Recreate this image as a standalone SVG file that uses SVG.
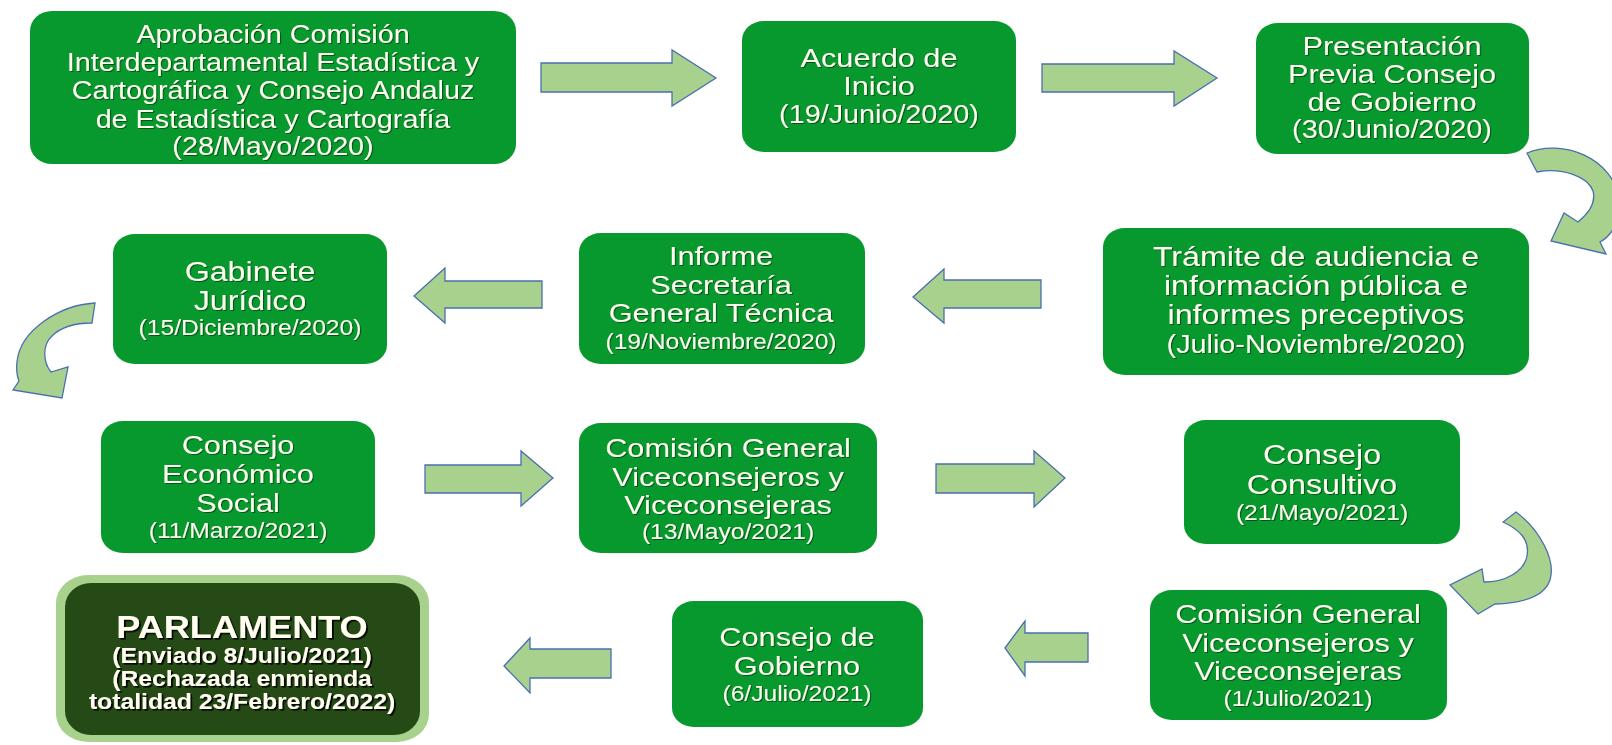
<svg xmlns="http://www.w3.org/2000/svg" width="1612" height="745" viewBox="0 0 1612 745">
<defs>
<filter id="sh" x="-10%" y="-30%" width="120%" height="160%">
<feDropShadow dx="1" dy="1" stdDeviation="0.6" flood-color="#000" flood-opacity="0.45"/>
</filter>
<filter id="sh2" x="-10%" y="-30%" width="120%" height="160%">
<feDropShadow dx="1.6" dy="1.6" stdDeviation="0.4" flood-color="#000" flood-opacity="0.9"/>
</filter>
</defs>
<style>
.box{fill:#08992e}
.arr{fill:#a9d18e;stroke:#4a6fb0;stroke-width:1.3;stroke-linejoin:miter}
text{font-family:"Liberation Sans",Arial,sans-serif;fill:#fffef0;text-anchor:middle}
.t1{font-size:25px}
.t2{font-size:26.7px}
.t3{font-size:28px}
.td{font-size:21.4px}
.pb{font-size:31.4px;font-weight:bold}
.ps{font-size:21.5px;font-weight:bold}
.txt{filter:url(#sh)}
</style>
<rect width="1612" height="745" fill="#ffffff"/>

<g id="connectors">
<polygon class="arr" points="541,63 672,63 672,50 716,78 672,106 672,92 541,92"/>
<polygon class="arr" points="1042,64 1174,64 1174,51 1217,78 1174,106 1174,92 1042,92"/>
<polygon class="arr" points="913,297 944,269 944,280 1041,280 1041,308 944,308 944,323"/>
<polygon class="arr" points="414,296 445,268 445,281 542,281 542,308 445,308 445,323"/>
<polygon class="arr" points="425,465 521,465 521,451 553,478 521,506 521,493 425,493"/>
<polygon class="arr" points="936,464 1034,464 1034,451 1065,478 1034,507 1034,493 936,493"/>
<polygon class="arr" points="1005,648 1025,621 1025,633 1088,633 1088,662 1025,662 1025,676"/>
<polygon class="arr" points="504,666 530,638 530,649 611,649 611,678 530,678 530,693"/>
<path class="arr" d="M1527 153 C1562 138 1614 158 1619 200 C1621 222 1611 236 1600 242 L1606 254 L1551 241 L1564 213 L1578 222 C1589 213 1596 202 1593 191 C1588 177 1563 167 1537 172 Z"/>
<path class="arr" d="M95 303 C60 305 20 330 17 362 C16 370 17 376 19 381 L13 390 L62 398 L68 367 L51 372 C43 362 42 345 52 336 C62 326 78 323 92 323 Z"/>
<path class="arr" d="M1516 512 C1540 530 1556 560 1550 580 C1545 595 1525 603 1495 604 L1478 614 L1450 585 L1482 569 L1484 582 C1505 582 1524 572 1527 556 C1530 540 1520 530 1503 522 Z"/>
</g>

<g id="n1">
<rect class="box" x="30" y="11" width="486" height="153" rx="22" ry="20"/>
<g class="txt" transform="translate(273 0) scale(1.15 1)">
<text class="t1" x="0" y="43">Aprobación Comisión</text>
<text class="t1" x="0" y="71">Interdepartamental Estadística y</text>
<text class="t1" x="0" y="99">Cartográfica y Consejo Andaluz</text>
<text class="t1" x="0" y="128">de Estadística y Cartografía</text>
<text class="t1" x="0" y="155">(28/Mayo/2020)</text>
</g>
</g>

<g id="n2">
<rect class="box" x="742" y="21" width="274" height="131" rx="22" ry="19"/>
<g class="txt" transform="translate(879 0) scale(1.15 1)">
<text class="t2" x="0" y="67">Acuerdo de</text>
<text class="t2" x="0" y="95">Inicio</text>
<text class="t1" x="0" y="123">(19/Junio/2020)</text>
</g>
</g>

<g id="n3">
<rect class="box" x="1256" y="23" width="273" height="131" rx="22" ry="19"/>
<g class="txt" transform="translate(1392 0) scale(1.15 1)">
<text class="t2" x="0" y="55">Presentación</text>
<text class="t2" x="0" y="83">Previa Consejo</text>
<text class="t2" x="0" y="111">de Gobierno</text>
<text class="t1" x="0" y="138">(30/Junio/2020)</text>
</g>
</g>

<g id="n4">
<rect class="box" x="1103" y="228" width="426" height="147" rx="22" ry="19"/>
<g class="txt" transform="translate(1316 0) scale(1.15 1)">
<text class="t3" x="0" y="266">Trámite de audiencia e</text>
<text class="t3" x="0" y="295">información pública e</text>
<text class="t3" x="0" y="324">informes preceptivos</text>
<text class="t1" x="0" y="353">(Julio-Noviembre/2020)</text>
</g>
</g>

<g id="n5">
<rect class="box" x="579" y="233" width="286" height="131" rx="22" ry="19"/>
<g class="txt" transform="translate(721 0) scale(1.15 1)">
<text class="t2" x="0" y="265">Informe</text>
<text class="t2" x="0" y="294">Secretaría</text>
<text class="t2" x="0" y="322">General Técnica</text>
<text class="td" x="0" y="349">(19/Noviembre/2020)</text>
</g>
</g>

<g id="n6">
<rect class="box" x="113" y="234" width="274" height="130" rx="22" ry="19"/>
<g class="txt" transform="translate(250 0) scale(1.15 1)">
<text class="t3" x="0" y="281">Gabinete</text>
<text class="t3" x="0" y="310">Jurídico</text>
<text class="td" x="0" y="335">(15/Diciembre/2020)</text>
</g>
</g>

<g id="n7">
<rect class="box" x="101" y="421" width="274" height="132" rx="22" ry="19"/>
<g class="txt" transform="translate(238 0) scale(1.15 1)">
<text class="t2" x="0" y="454">Consejo</text>
<text class="t2" x="0" y="483">Económico</text>
<text class="t2" x="0" y="512">Social</text>
<text class="td" x="0" y="538">(11/Marzo/2021)</text>
</g>
</g>

<g id="n8">
<rect class="box" x="579" y="423" width="298" height="130" rx="22" ry="19"/>
<g class="txt" transform="translate(728 0) scale(1.15 1)">
<text class="t2" x="0" y="457">Comisión General</text>
<text class="t2" x="0" y="486">Viceconsejeros y</text>
<text class="t2" x="0" y="514">Viceconsejeras</text>
<text class="td" x="0" y="539">(13/Mayo/2021)</text>
</g>
</g>

<g id="n9">
<rect class="box" x="1184" y="420" width="276" height="124" rx="22" ry="19"/>
<g class="txt" transform="translate(1322 0) scale(1.15 1)">
<text class="t3" x="0" y="464">Consejo</text>
<text class="t3" x="0" y="494">Consultivo</text>
<text class="td" x="0" y="520">(21/Mayo/2021)</text>
</g>
</g>

<g id="n10">
<rect class="box" x="1150" y="590" width="297" height="130" rx="22" ry="19"/>
<g class="txt" transform="translate(1298 0) scale(1.15 1)">
<text class="t2" x="0" y="623">Comisión General</text>
<text class="t2" x="0" y="652">Viceconsejeros y</text>
<text class="t2" x="0" y="680">Viceconsejeras</text>
<text class="td" x="0" y="706">(1/Julio/2021)</text>
</g>
</g>

<g id="n11">
<rect class="box" x="672" y="601" width="251" height="126" rx="22" ry="19"/>
<g class="txt" transform="translate(797 0) scale(1.15 1)">
<text class="t2" x="0" y="646">Consejo de</text>
<text class="t2" x="0" y="675">Gobierno</text>
<text class="td" x="0" y="701">(6/Julio/2021)</text>
</g>
</g>

<g id="n12">
<rect x="56" y="575" width="373" height="167" rx="32" ry="28" fill="#a9d18e"/>
<rect x="65" y="583" width="355" height="152" rx="26" ry="24" fill="#254a15"/>
<g filter="url(#sh2)" transform="translate(242 0) scale(1.15 1)">
<text class="pb" x="0" y="638">PARLAMENTO</text>
<text class="ps" x="0" y="663">(Enviado 8/Julio/2021)</text>
<text class="ps" x="0" y="686">(Rechazada enmienda</text>
<text class="ps" x="0" y="709">totalidad 23/Febrero/2022)</text>
</g>
</g>
</svg>
